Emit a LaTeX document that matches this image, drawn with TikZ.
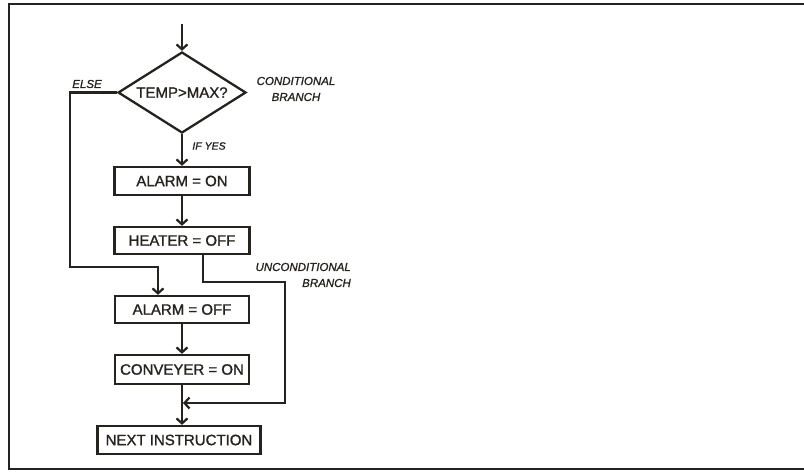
\documentclass[tikz,border=0pt]{standalone}
\usepackage{fontspec}
\setmainfont{Liberation Sans}
\newfontfamily\boxfont[FakeBold=1.2]{Liberation Sans}
\usetikzlibrary{shapes.geometric,arrows.meta}
\definecolor{ink}{RGB}{38,34,30}
\begin{document}
\begin{tikzpicture}[x=1pt,y=-1pt,
  every node/.style={text=ink},
  stepbox/.style={draw=ink,line width=2.3pt,rectangle,inner sep=0pt,font=\boxfont\fontsize{15}{18}\selectfont},
  decision/.style={draw=ink,line width=2.3pt,diamond,aspect=1.58,inner sep=0pt,
    minimum width=128pt,minimum height=81pt,font=\boxfont\fontsize{15}{18}\selectfont},
  flow/.style={draw=ink,line width=2.5pt,-{Straight Barb[length=5pt,width=11pt,line width=2.2pt]}},
  note/.style={font=\boxfont\fontsize{11.5}{16}\selectfont\itshape,inner sep=0pt}]
\useasboundingbox (0,0) rectangle (804,472);
\fill[white] (0,0) rectangle (804,472);
% outer frame, open on the right
\draw[ink,line width=2.8pt] (812,4) -- (9,4) -- (9,469) -- (812,469);

% flowchart nodes
\coordinate (entry) at (182,24);
\node[decision] (test) at (182,92.5) {TEMP>MAX?};
\node[stepbox,minimum width=135pt,minimum height=28pt] (alon) at (182,181) {ALARM = ON};
\node[stepbox,minimum width=135pt,minimum height=27pt] (heat) at (182,240.5) {HEATER = OFF};
\node[stepbox,minimum width=134pt,minimum height=27pt] (aloff) at (182,309.5) {ALARM = OFF};
\node[stepbox,minimum width=134pt,minimum height=29pt] (conv) at (182,369.5) {CONVEYER = ON};
\node[stepbox,minimum width=163pt,minimum height=28pt] (next) at (179,440) {NEXT INSTRUCTION};

% routing points
\coordinate (elsecorner) at (70,267);
\coordinate (elsein) at ([xshift=-24pt]aloff.north);
\coordinate (jumpout) at ([xshift=21pt]heat.south);
\coordinate (jumpcorner) at (285,282);
\coordinate (merge) at (183,403);

% connectors
\draw[flow] (entry) -- (test.north);
\draw[flow] (test.south) -- (alon.north);
\draw[flow] (alon.south) -- (heat.north);
\draw[flow] (test.west) -| (elsecorner) -| (elsein);
\draw[flow] (aloff.south) -- (conv.north);
\draw[flow] (conv.south) -- (conv.south |- next.north);
\draw[flow] (jumpout) |- (jumpcorner) |- (merge);

% labels
\node[note] (elselbl) at (87,84) {ELSE};
\node[note,align=center] (condlbl) at (296,89) {CONDITIONAL\\BRANCH};
\node[note,font=\boxfont\fontsize{10.5}{12}\selectfont\itshape] (yeslbl) at (209,146) {IF YES};
\node[note,align=right,anchor=east] (unclbl) at (351,275) {UNCONDITIONAL\\BRANCH};
\end{tikzpicture}
\end{document}
